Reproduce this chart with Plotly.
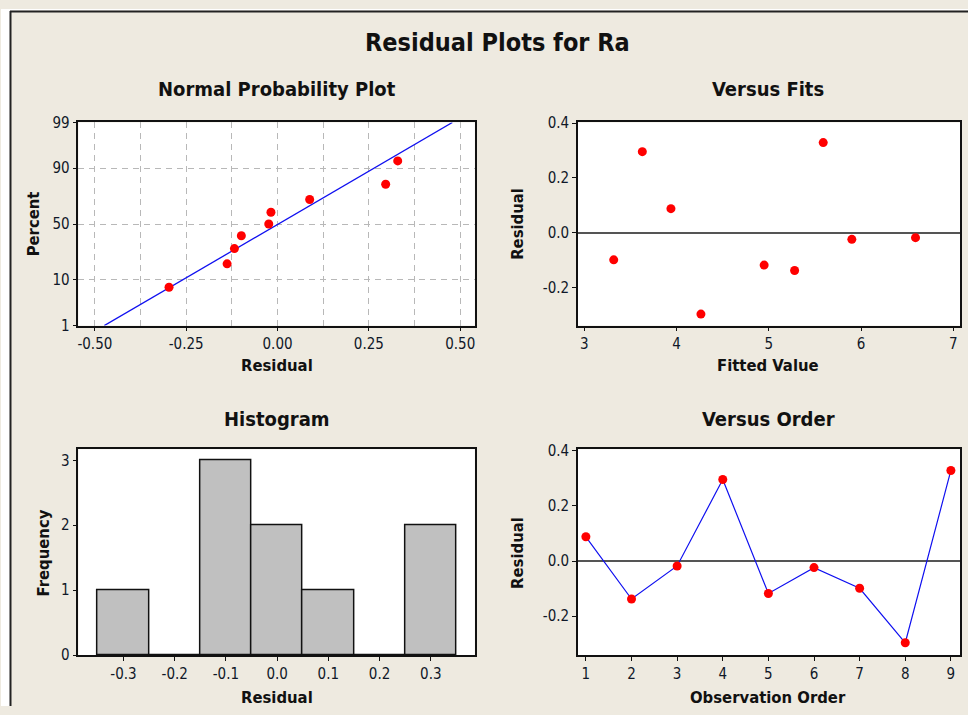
import plotly.graph_objects as go
from statistics import NormalDist, mean, stdev

# ---------------- data ----------------
observation_order = [1, 2, 3, 4, 5, 6, 7, 8, 9]
residuals = [0.088, -0.138, -0.018, 0.296, -0.118, -0.024, -0.099, -0.297, 0.329]
fitted_values = [3.94, 5.28, 6.59, 3.63, 4.95, 5.90, 3.32, 4.265, 5.59]

npp_residual = [-0.297, -0.138, -0.118, -0.099, -0.024, -0.018, 0.088, 0.296, 0.329]
npp_percent = [7.4, 18.1, 28.7, 39.4, 50.0, 60.6, 71.3, 81.9, 92.6]
prob_tick_labels = [1, 10, 50, 90, 99]

hist_bin_centers = [-0.3, -0.2, -0.1, 0.0, 0.1, 0.2, 0.3]
hist_counts = [1, 0, 3, 2, 1, 0, 2]

# ---------------- helpers ----------------
W, H = 968, 715
nd = NormalDist()

# the photographed page shows the figure 8px lower and ~2.2% shorter;
# vertical positions below are given in screen pixels and mapped back here
Y_OFF, Y_SCALE = 8.0, 0.9776


def z(p):
    return nd.inv_cdf(p / 100.0)


def px(x):
    return x / W


def py(y):
    return 1 - ((y - Y_OFF) / Y_SCALE) / H


BEIGE = "#EEEAE0"
COND = "DejaVu Sans Condensed, DejaVu Sans, sans-serif"
TICK_FONT = dict(family=COND, size=15, color="#101828")
RED = "#FF0000"
BLUE = "#1010F0"

fig = go.Figure()

# Normal probability plot
mu, sd = mean(residuals), stdev(residuals)
zl = [z(prob_tick_labels[0]), z(prob_tick_labels[-1])]
fig.add_trace(go.Scatter(x=[mu + sd * v for v in zl], y=zl, mode="lines",
                         line=dict(color=BLUE, width=1.3), xaxis="x", yaxis="y",
                         showlegend=False, cliponaxis=False))
fig.add_trace(go.Scatter(x=npp_residual, y=[z(p) for p in npp_percent], mode="markers",
                         marker=dict(color=RED, size=9), xaxis="x", yaxis="y", showlegend=False))

# Versus fits
fig.add_trace(go.Scatter(x=fitted_values, y=residuals, mode="markers",
                         marker=dict(color=RED, size=9), xaxis="x2", yaxis="y2", showlegend=False))

# Histogram
fig.add_trace(go.Bar(x=hist_bin_centers, y=hist_counts, width=0.1,
                     marker=dict(color="#C0C0C0", line=dict(color="#111111", width=1.5)),
                     xaxis="x3", yaxis="y3", showlegend=False))

# Versus order
fig.add_trace(go.Scatter(x=observation_order, y=residuals, mode="lines+markers",
                         line=dict(color=BLUE, width=1.2),
                         marker=dict(color=RED, size=9), xaxis="x4", yaxis="y4", showlegend=False))

# ---------------- axes ----------------
dom_x1 = [px(77.5), px(474.3)]
dom_x2 = [px(577.5), px(960)]
dom_top = [py(325.5), py(121.8)]
dom_bot = [py(656), py(449.5)]

base = dict(showline=True, linecolor="#111111", linewidth=1.5, mirror=True,
            ticks="outside", ticklen=4, tickwidth=1, tickcolor="#111111",
            showgrid=False, zeroline=False, tickfont=TICK_FONT, fixedrange=True)

fig.update_layout(
    xaxis=dict(base, domain=dom_x1, anchor="y", range=[-0.545, 0.540],
               tickvals=[-0.5, -0.25, 0, 0.25, 0.5],
               ticktext=["-0.50", "-0.25", "0.00", "0.25", "0.50"],
               showgrid=True, gridcolor="#B8B8B8", griddash="6px,5px", gridwidth=1,
               minor=dict(tickvals=[-0.375, -0.125, 0.125, 0.375], showgrid=True,
                          gridcolor="#B8B8B8", griddash="6px,5px", gridwidth=1, ticks="")),
    yaxis=dict(base, domain=dom_top, anchor="x", range=[z(1), z(99)],
               tickvals=[z(p) for p in prob_tick_labels],
               ticktext=[str(p) for p in prob_tick_labels],
               showgrid=True, gridcolor="#B8B8B8", griddash="6px,5px", gridwidth=1),
    xaxis2=dict(base, domain=dom_x2, anchor="y2", range=[2.932, 7.072],
                tickvals=[3, 4, 5, 6, 7]),
    yaxis2=dict(base, domain=dom_top, anchor="x2", range=[-0.339, 0.4025],
                tickvals=[-0.2, 0.0, 0.2, 0.4], ticktext=["-0.2", "0.0", "0.2", "0.4"],
                zeroline=True, zerolinecolor="#555555", zerolinewidth=1.5),
    xaxis3=dict(base, domain=dom_x1, anchor="y3", range=[-0.388, 0.386],
                tickvals=hist_bin_centers,
                ticktext=["-0.3", "-0.2", "-0.1", "0.0", "0.1", "0.2", "0.3"]),
    yaxis3=dict(base, domain=dom_bot, anchor="x3", range=[0, 3.17],
                tickvals=[0, 1, 2, 3]),
    xaxis4=dict(base, domain=dom_x2, anchor="y4", range=[0.825, 9.2],
                tickvals=observation_order),
    yaxis4=dict(base, domain=dom_bot, anchor="x4", range=[-0.342, 0.406],
                tickvals=[-0.2, 0.0, 0.2, 0.4], ticktext=["-0.2", "0.0", "0.2", "0.4"],
                zeroline=True, zerolinecolor="#555555", zerolinewidth=1.5),
)

# ---------------- text ----------------
ann = []


def add_text(text, x, y, size, angle=0):
    ann.append(dict(text=f"<b>{text}</b>", x=px(x), y=py(y), xref="paper", yref="paper",
                    showarrow=False, textangle=angle, xanchor="center", yanchor="middle",
                    font=dict(family=COND, size=size, color="#111111")))


add_text("Residual Plots for Ra", 497, 42, 25)
add_text("Normal Probability Plot", 276, 88, 20)
add_text("Versus Fits", 768, 88, 20)
add_text("Histogram", 276, 419, 20)
add_text("Versus Order", 768, 419, 20)
add_text("Residual", 276, 366, 16.5)
add_text("Fitted Value", 768, 366, 16.5)
add_text("Residual", 276, 698, 16.5)
add_text("Observation Order", 768, 698, 16.5)
add_text("Percent", 32, 223, 16.5, -90)
add_text("Residual", 517, 223, 16.5, -90)
add_text("Frequency", 42, 553, 16.5, -90)
add_text("Residual", 517, 553, 16.5, -90)

shapes = [
    dict(type="rect", xref="paper", yref="paper", x0=0, x1=1, y0=py(9.6), y1=1,
         fillcolor="white", line=dict(width=0), layer="below"),
    dict(type="rect", xref="paper", yref="paper", x0=0, x1=px(9), y0=0, y1=1,
         fillcolor="white", line=dict(width=0), layer="below"),
    dict(type="line", xref="paper", yref="paper", x0=px(9), x1=1, y0=py(10.5), y1=py(10.5),
         line=dict(color="#222222", width=2)),
    dict(type="line", xref="paper", yref="paper", x0=px(9.5), x1=px(9.5), y0=0, y1=py(10),
         line=dict(color="#222222", width=2)),
]

fig.update_layout(
    width=W, height=H,
    margin=dict(l=0, r=0, t=0, b=0),
    paper_bgcolor=BEIGE, plot_bgcolor="white",
    annotations=ann, shapes=shapes,
    bargap=0, showlegend=False,
)

fig.write_html(
    "out.html",
    config={"displayModeBar": False, "responsive": False},
    post_script=(
        "document.documentElement.style.margin='0';"
        "document.documentElement.style.overflow='hidden';"
        "document.body.style.margin='0';"
        "document.body.style.overflow='hidden';"
    ),
)
